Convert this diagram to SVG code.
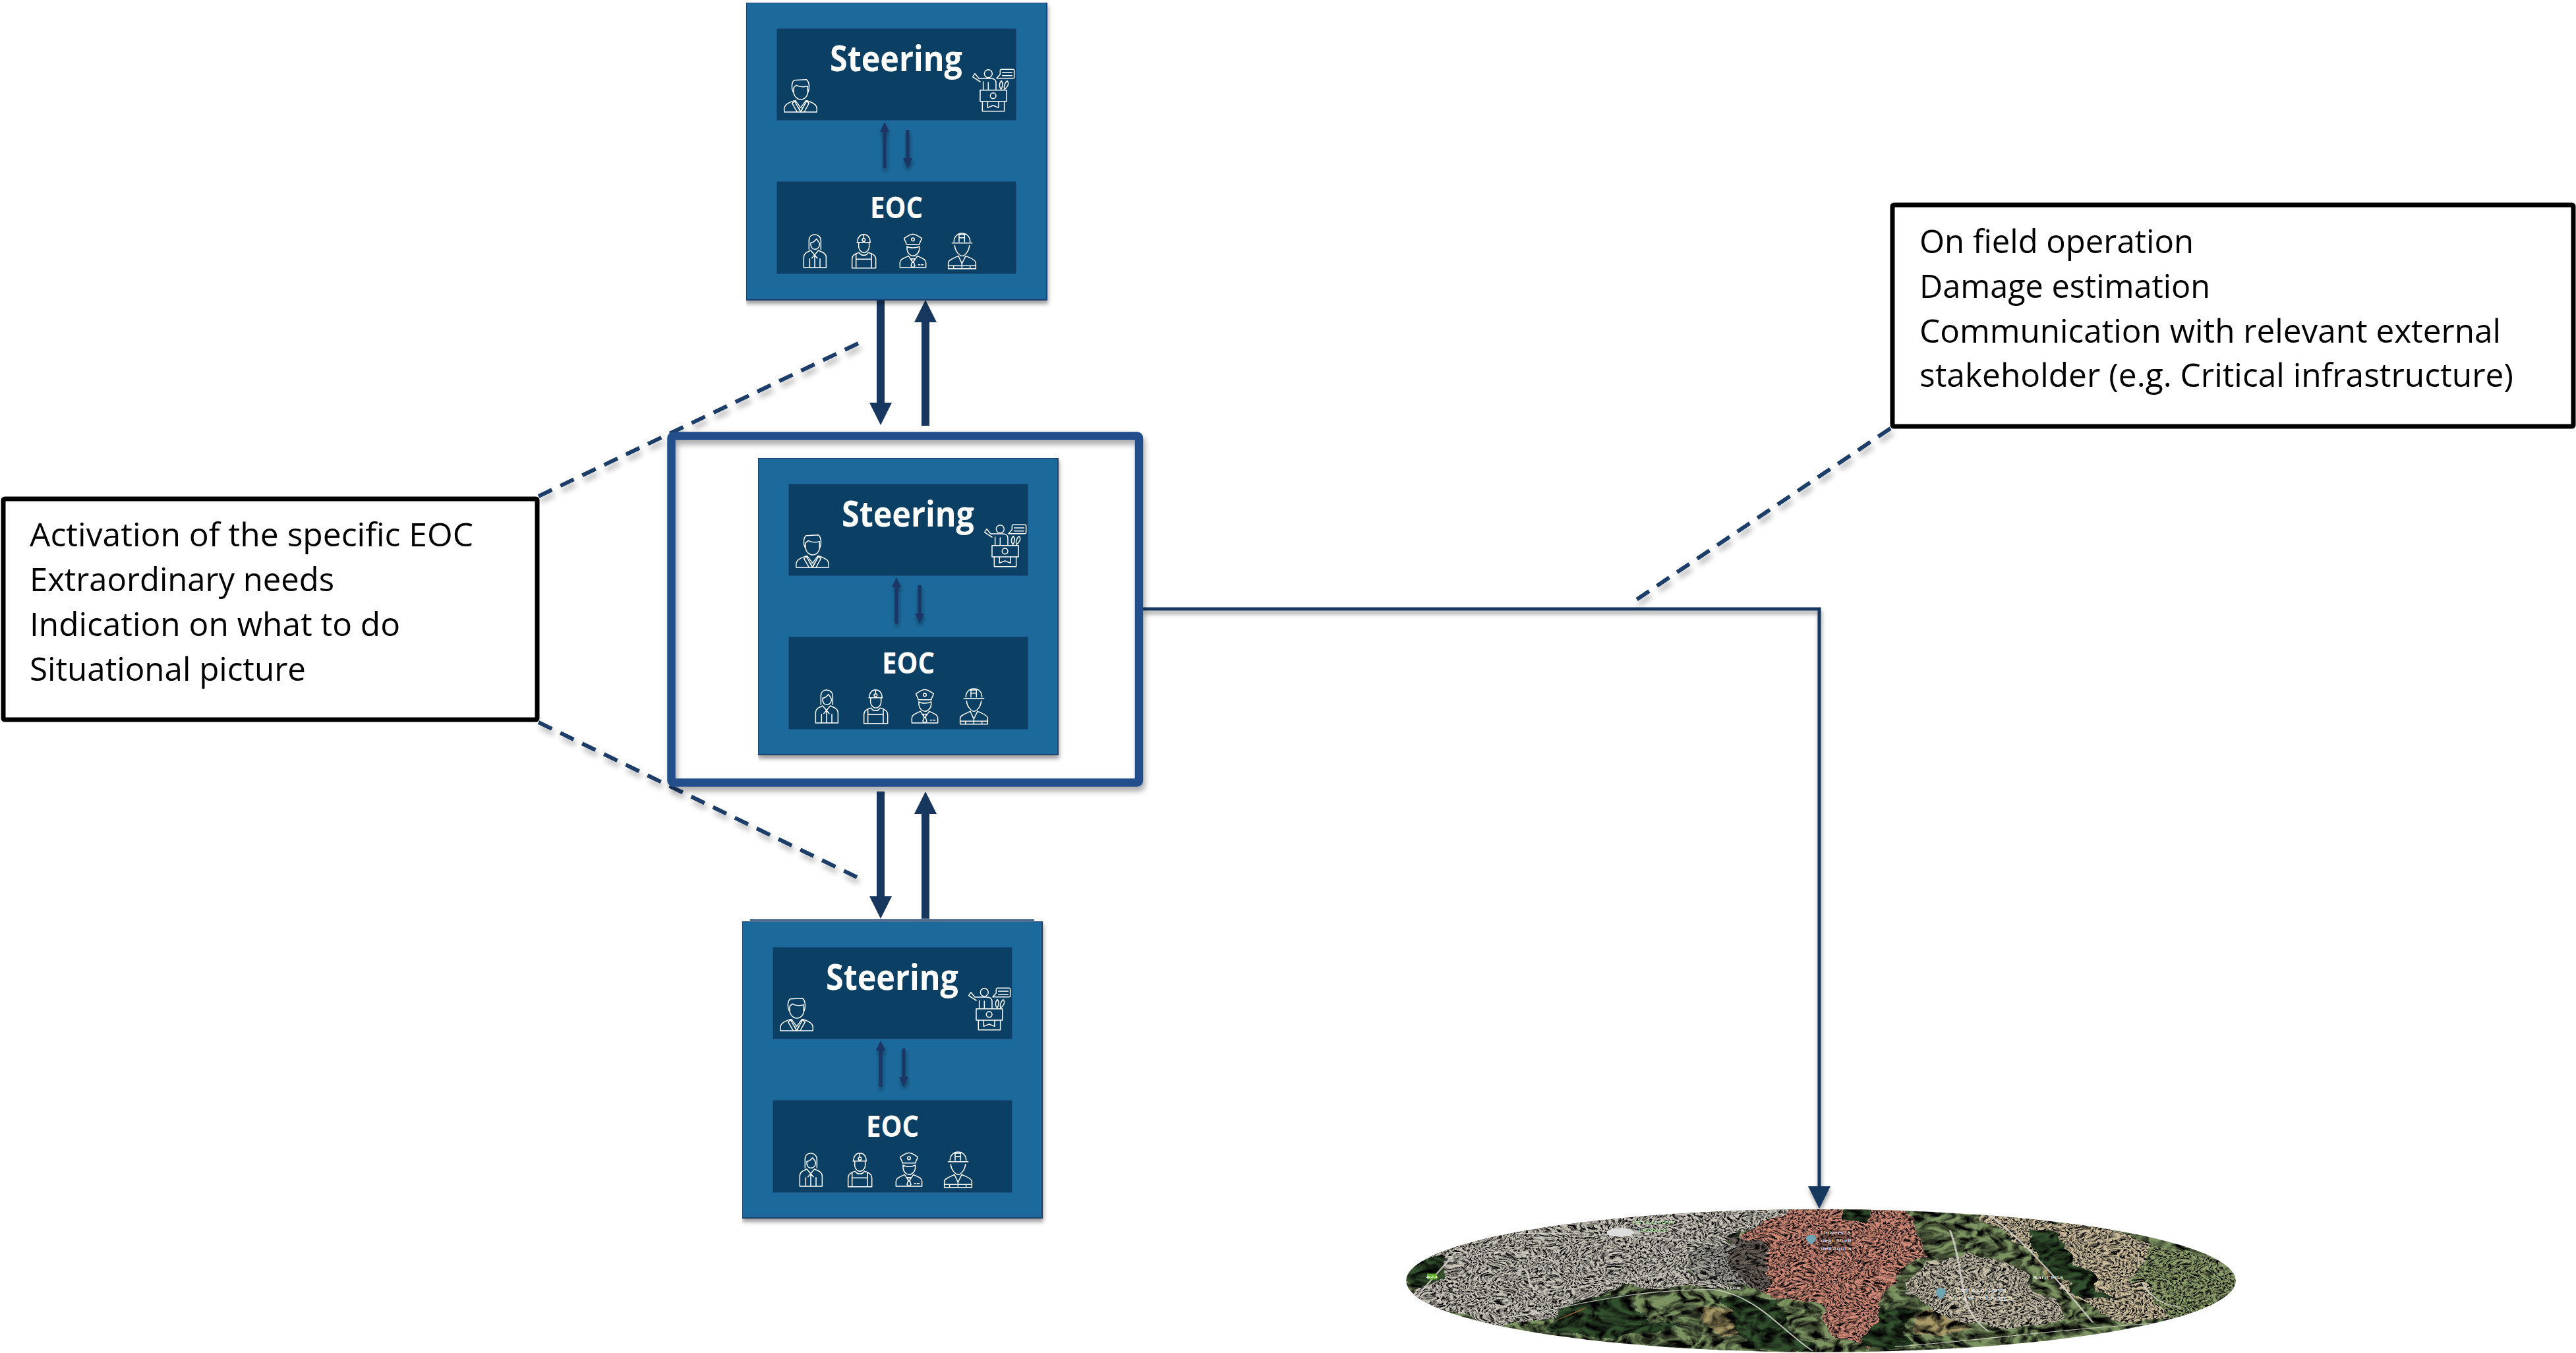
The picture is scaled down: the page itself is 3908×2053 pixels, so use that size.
<svg xmlns="http://www.w3.org/2000/svg" xmlns:xlink="http://www.w3.org/1999/xlink" width="3908" height="2053" viewBox="0 0 3908 2053">
<style>
text{font-family:"Open Sans","Noto Sans","Liberation Sans",sans-serif}
.body{fill:#1c6a9c;stroke:#1a3f70;stroke-width:2}
.inner{fill:#0b3f63;stroke:#123a66;stroke-width:1}
.ttl{fill:#fff;font-weight:700;text-anchor:middle}
.st{font-size:54px}
.eo{font-size:44px}
.ico{fill:none;stroke:#fff;stroke-width:4.5;stroke-linejoin:round;stroke-linecap:round}
.call{fill:#fff;stroke:#000;stroke-width:7}
.ct{font-size:50px;fill:#000}
.dash{stroke:#1b3c68;stroke-width:6;stroke-dasharray:22.5 14.3;fill:none}
.big{stroke:#17375e;stroke-width:12;fill:none}
.sm{stroke:#1a3565;stroke-width:5;fill:none}
.conn{stroke:#17375e;stroke-width:5;fill:none}
.frame{fill:none;stroke:#22508c;stroke-width:12.5}
.road{fill:none;stroke:#d6d5cd;stroke-width:3.5;opacity:.85}
.mt{fill:#fff;font-size:24px}
</style>
<defs>
<marker id="hBig" markerUnits="userSpaceOnUse" markerWidth="34" markerHeight="34" refX="0" refY="17" orient="auto"><path d="M0 0L34 17L0 34Z" fill="#17375e"/></marker>
<marker id="hSm" markerUnits="userSpaceOnUse" markerWidth="15" markerHeight="14" refX="0" refY="7" orient="auto"><path d="M0 0L15 7L0 14Z" fill="#1a3565"/></marker>
<filter id="sh" filterUnits="userSpaceOnUse" x="0" y="0" width="3908" height="2053"><feDropShadow dx="3" dy="7" stdDeviation="4" flood-color="#000" flood-opacity=".33"/></filter>
<filter id="shN" filterUnits="userSpaceOnUse" x="0" y="0" width="3908" height="2053"><feDropShadow dx="1" dy="5" stdDeviation="3" flood-color="#000" flood-opacity=".4"/></filter>
<filter id="urban" color-interpolation-filters="sRGB" filterUnits="userSpaceOnUse" x="0" y="80" width="1600" height="700">
<feTurbulence type="fractalNoise" baseFrequency=".22 .1" numOctaves="3" seed="7" result="n"/>
<feColorMatrix in="n" type="matrix" values="3.2 0 0 0 -.9 3.2 0 0 0 -.9 3.2 0 0 0 -.9 0 0 0 0 1" result="g"/>
<feBlend in="SourceGraphic" in2="g" mode="multiply" result="b"/>
<feComposite in="b" in2="SourceAlpha" operator="in" result="c"/>
<feTurbulence type="fractalNoise" baseFrequency=".012 .01" numOctaves="3" seed="4" result="w"/>
<feDisplacementMap in="c" in2="w" scale="70" xChannelSelector="R" yChannelSelector="G" result="d"/>
<feGaussianBlur in="d" stdDeviation=".5"/>
</filter>
<filter id="veg" color-interpolation-filters="sRGB" filterUnits="userSpaceOnUse" x="0" y="80" width="1600" height="700">
<feTurbulence type="fractalNoise" baseFrequency=".05 .03" numOctaves="4" seed="11" result="n"/>
<feColorMatrix in="n" type="matrix" values="2.4 0 0 0 -.6 2.4 0 0 0 -.6 2.4 0 0 0 -.6 0 0 0 0 1" result="g"/>
<feBlend in="SourceGraphic" in2="g" mode="multiply" result="b"/>
<feComposite in="b" in2="SourceAlpha" operator="in" result="c"/>
<feTurbulence type="fractalNoise" baseFrequency=".012 .01" numOctaves="3" seed="9" result="w"/>
<feDisplacementMap in="c" in2="w" scale="70" xChannelSelector="R" yChannelSelector="G"/>
</filter>
<clipPath id="ell"><ellipse cx="795" cy="430" rx="755" ry="325"/></clipPath>
<g id="icons" class="ico" transform="scale(.33333) translate(-96 -12)">
<path d="M310 420C300 400 303 375 315 365L370 362C385 375 385 400 378 420"/>
<path d="M312 400V420C315 445 335 453 344 453C355 453 375 445 376 420V392C360 398 335 395 325 388C320 392 314 395 312 400Z"/>
<path d="M270 510C265 480 280 470 315 458L344 510L372 458C410 470 422 480 417 510Z"/>
<path d="M305 470L320 458L344 490L368 458L382 470L360 510M305 470L328 510M335 490L344 510L353 490"/>
<circle cx="1198" cy="335" r="18"/>
<path d="M1161 372L1127 350L1137 335L1155 357H1210C1225 357 1233 365 1233 378V408M1175 372V408M1198 375V408"/>
<path d="M1236 356L1252 338V322Q1252 316 1258 316H1310Q1316 316 1316 322V350Q1316 356 1310 356ZM1262 330H1306M1262 344H1306"/>
<path d="M1258 368C1268 380 1262 398 1256 406C1248 398 1245 380 1258 368ZM1284 368C1296 380 1284 398 1272 406C1268 395 1272 378 1284 368Z"/>
<rect x="1161" y="410" width="120" height="52"/><circle cx="1220" cy="436" r="13"/>
<path d="M1171 462V506H1271V462M1195 462V490L1220 480L1245 490V462"/>
<path d="M382 1135V1095C382 1075 395 1068 408 1068C425 1068 436 1080 436 1095V1135"/>
<path d="M390 1105C400 1105 410 1095 416 1088C425 1100 432 1105 430 1115C428 1128 418 1135 408 1135C398 1135 388 1125 390 1105Z"/>
<path d="M390 1140L420 1175M425 1140L395 1175M390 1140C370 1148 358 1155 358 1170V1218H460V1170C460 1155 445 1148 425 1140M385 1218V1178M408 1218V1165M432 1218V1178"/>
<path d="M603 1100C603 1080 615 1067 631 1067C648 1067 660 1080 660 1100M600 1103H662M631 1067V1084"/><circle cx="631" cy="1092" r="7"/>
<path d="M608 1105V1125C610 1140 622 1150 632 1150C642 1150 654 1140 656 1125V1105"/>
<path d="M610 1150C590 1155 578 1165 578 1180V1220H686V1180C686 1165 672 1155 652 1150M612 1152C620 1165 642 1165 650 1152M596 1155V1220M666 1155V1220M596 1180H666"/>
<path d="M815 1085C830 1075 845 1066 855 1066C865 1066 880 1075 895 1085C890 1100 885 1105 885 1112H825C825 1105 820 1100 815 1085Z"/><circle cx="855" cy="1090" r="7"/>
<path d="M827 1122C840 1130 870 1130 884 1122M828 1125V1135C830 1155 845 1165 855 1165C865 1165 882 1155 884 1135V1125"/>
<path d="M796 1218V1195C796 1180 815 1175 835 1165L855 1195L875 1165C895 1175 914 1180 914 1195V1218ZM848 1178H862L858 1192L864 1210L855 1218L846 1210L852 1192ZM880 1205H886M892 1205H902"/>
<path d="M1042 1100C1042 1075 1060 1062 1078 1062C1098 1062 1115 1075 1115 1100M1033 1106H1124M1065 1100V1068H1090V1100M1065 1082H1090"/>
<path d="M1045 1118C1047 1145 1068 1165 1079 1165C1090 1165 1110 1145 1112 1118"/>
<path d="M1016 1223V1195C1016 1185 1040 1175 1062 1165L1078 1200L1095 1165C1120 1175 1141 1185 1141 1195V1223ZM1016 1210H1141M1040 1210V1223M1078 1200V1223M1115 1210V1223"/>
</g>
</defs>

<g id="connectors">
<g filter="url(#sh)">
<path class="dash" d="M817 753L1302 521"/>
<path class="dash" d="M817 1096L1300 1331"/>
<path class="dash" d="M2868 650L2481 911"/>
</g>
<g filter="url(#shN)">
<path class="conn" marker-end="url(#hBig)" d="M1734 924H2760V1800"/>
</g>
<path class="big" marker-end="url(#hBig)" d="M1336 455V611"/>
<path class="big" marker-end="url(#hBig)" d="M1404 646V489"/>
<path class="big" marker-end="url(#hBig)" d="M1336 1201V1360"/>
<path class="big" marker-end="url(#hBig)" d="M1404 1394V1235"/>
</g>

<g id="frame-middle" filter="url(#sh)"><rect class="frame" x="1018.5" y="661.5" width="709.5" height="526" rx="3"/></g>

<g id="node-top" transform="translate(1132 4)">
<rect class="body" width="456" height="451" filter="url(#shN)"/>
<rect class="inner" x="47" y="40" width="362" height="138"/>
<rect class="inner" x="47" y="272" width="362" height="139"/>
<text class="ttl st" x="227.5" y="104" textLength="201" lengthAdjust="spacingAndGlyphs">Steering</text>
<text class="ttl eo" x="228" y="327" textLength="80" lengthAdjust="spacingAndGlyphs">EOC</text>
<use href="#icons"/>
<g filter="url(#shN)"><path class="sm" marker-end="url(#hSm)" d="M210 251V196"/><path class="sm" marker-end="url(#hSm)" d="M245 193V236"/></g>
</g>

<g id="node-middle" transform="translate(1150 695)">
<rect class="body" width="455" height="450" filter="url(#shN)"/>
<rect class="inner" x="47" y="40" width="362" height="138"/>
<rect class="inner" x="47" y="272" width="362" height="139"/>
<text class="ttl st" x="227.5" y="104" textLength="201" lengthAdjust="spacingAndGlyphs">Steering</text>
<text class="ttl eo" x="228" y="327" textLength="80" lengthAdjust="spacingAndGlyphs">EOC</text>
<use href="#icons"/>
<g filter="url(#shN)"><path class="sm" marker-end="url(#hSm)" d="M210 251V196"/><path class="sm" marker-end="url(#hSm)" d="M245 193V236"/></g>
</g>

<g id="node-bottom" transform="translate(1126 1398)">
<path d="M12 -2H443" stroke="#1a3f70" stroke-width="2" fill="none"/>
<rect class="body" width="455" height="450" filter="url(#shN)"/>
<rect class="inner" x="47" y="40" width="362" height="138"/>
<rect class="inner" x="47" y="272" width="362" height="139"/>
<text class="ttl st" x="227.5" y="104" textLength="201" lengthAdjust="spacingAndGlyphs">Steering</text>
<text class="ttl eo" x="228" y="327" textLength="80" lengthAdjust="spacingAndGlyphs">EOC</text>
<use href="#icons"/>
<g filter="url(#shN)"><path class="sm" marker-end="url(#hSm)" d="M210 251V196"/><path class="sm" marker-end="url(#hSm)" d="M245 193V236"/></g>
</g>

<g id="callout-left">
<rect class="call" x="5" y="757" width="810" height="335" rx="2"/>
<text class="ct" x="45" y="829" textLength="673" lengthAdjust="spacingAndGlyphs">Activation of the specific EOC</text>
<text class="ct" x="45" y="897" textLength="462" lengthAdjust="spacingAndGlyphs">Extraordinary needs</text>
<text class="ct" x="45" y="965" textLength="562" lengthAdjust="spacingAndGlyphs">Indication on what to do</text>
<text class="ct" x="45" y="1033" textLength="419" lengthAdjust="spacingAndGlyphs">Situational picture</text>
</g>

<g id="callout-right">
<rect class="call" x="2871" y="311" width="1033" height="336" rx="2"/>
<text class="ct" x="2912" y="384" textLength="416" lengthAdjust="spacingAndGlyphs">On field operation</text>
<text class="ct" x="2912" y="452" textLength="441" lengthAdjust="spacingAndGlyphs">Damage estimation</text>
<text class="ct" x="2912" y="520" textLength="882" lengthAdjust="spacingAndGlyphs">Communication with relevant external</text>
<text class="ct" x="2912" y="587" textLength="901" lengthAdjust="spacingAndGlyphs">stakeholder (e.g. Critical infrastructure)</text>
</g>

<g id="map" transform="translate(2100 1800) scale(.83333 .33333)">
<g clip-path="url(#ell)">
<rect x="0" y="80" width="1600" height="700" fill="#7d9462" filter="url(#veg)"/>
<path fill="#a89a68" filter="url(#veg)" d="M560 560L660 570L700 680L620 700ZM960 560L1060 540L1080 650L980 680ZM1180 300L1290 300L1330 500L1260 520Z"/>
<path fill="#c8c4ba" filter="url(#urban)" d="M20 430L90 260L300 140L520 90L760 90L620 250L560 400L650 470L430 450L320 590L200 640L90 540Z"/>
<path fill="#cdbf9e" filter="url(#urban)" d="M1060 120L1150 130L1300 180L1400 260L1370 420L1430 600L1350 620L1290 590L1180 300Z"/>
<path fill="#8ea06c" filter="url(#urban)" d="M1400 260L1450 280L1570 420L1500 580L1430 600L1370 420Z"/>
<path fill="#c5bda8" filter="url(#urban)" d="M1000 340L1060 300L1180 400L1240 600L1110 650L1000 560L930 430Z"/>
<path fill="#d08a78" filter="url(#urban)" d="M740 90L960 110L990 310L920 400L900 520L895 640L860 760L820 650L790 560L700 470L620 280Z"/>
<path fill="#a0a098" filter="url(#urban)" d="M560 260L640 270L700 460L570 430Z"/>
<path fill="#6a625a" filter="url(#urban)" d="M620 240L680 270L710 470L660 450Z"/>
<path fill="#33502e" filter="url(#veg)" d="M840 100L900 100L880 180L830 170ZM1170 190L1210 200L1290 410L1330 520L1270 500L1200 320ZM320 560L440 480L480 620L560 640L420 700L300 640ZM900 540L960 560L950 720L880 750ZM40 360L110 310L90 420L50 470ZM620 500L700 500L780 760L640 700Z"/>
<path fill="#8a5a34" d="M300 625L360 565L372 545L330 590Z"/>
<g class="road">
<path d="M60 500L130 300"/>
<path d="M200 600C300 590 400 470 600 470C680 500 720 650 780 750"/>
<path d="M240 215C400 210 520 230 610 270"/>
<path d="M150 320C230 280 280 300 320 360"/>
<path d="M1030 200C1060 400 1040 560 1100 660"/>
<path d="M930 730C1100 700 1250 640 1500 610"/>
<path d="M1100 130C1170 250 1250 500 1290 620"/>
<path d="M350 460L600 360"/>
<path d="M250 370C280 420 240 450 300 500"/>
<path d="M1380 440C1400 520 1420 540 1450 550"/>
</g>
<path d="M430 190a25 20 0 1 0 .1 0Z" fill="#ddd"/>
<rect x="78" y="398" width="18" height="26" fill="#66b032"/>
<text x="87" y="416" font-size="12" fill="#fff" text-anchor="middle">A24</text>
<path d="M777 222c-12 0-12 22 0 44c12-22 12-44 0-44Z" fill="#6fa5b3"/>
<path d="M1013 464c-12 0-12 22 0 50c12-28 12-50 0-50Z" fill="#6fa5b3"/>
<rect x="790" y="198" width="62" height="100" fill="#000" opacity=".35"/>
<text class="mt" x="452" y="172" textLength="76" lengthAdjust="spacingAndGlyphs" style="fill:#b8f0a8">Parco Erminio</text>
<text class="mt" x="463" y="208" textLength="54" lengthAdjust="spacingAndGlyphs" style="fill:#b8f0a8">Iacobucci</text>
<text class="mt" x="795" y="218" textLength="54" lengthAdjust="spacingAndGlyphs">Università</text>
<text class="mt" x="795" y="254" textLength="55" lengthAdjust="spacingAndGlyphs">degli Studi</text>
<text class="mt" x="795" y="292" textLength="55" lengthAdjust="spacingAndGlyphs">dell'Aquila</text>
<text class="mt" x="1040" y="480" textLength="92" lengthAdjust="spacingAndGlyphs">Basilica di Santa</text>
<text class="mt" x="1028" y="516" textLength="116" lengthAdjust="spacingAndGlyphs">Maria di Collemaggio</text>
<text class="mt" x="1181" y="422" textLength="55" lengthAdjust="spacingAndGlyphs">Sant'Elia</text>
</g>
</g>
</svg>
